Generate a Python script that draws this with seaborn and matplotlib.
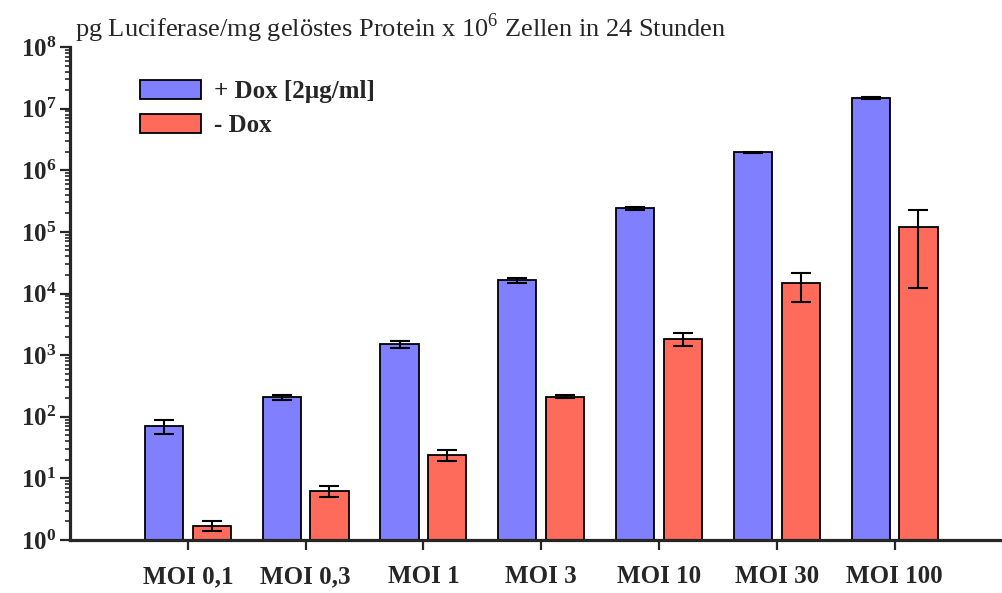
import pandas as pd
import matplotlib
matplotlib.use('Agg')
import matplotlib.pyplot as plt
import seaborn as sns
import numpy as np
from matplotlib.patches import Patch
from matplotlib.ticker import LogLocator, NullFormatter

# values (log scale)
moi = ['MOI 0,1', 'MOI 0,3', 'MOI 1', 'MOI 3', 'MOI 10', 'MOI 30', 'MOI 100']
dox_plus = [70, 210, 1520, 16500, 240000, 1.95e6, 1.5e7]
dox_plus_lo = [53, 188, 1290, 15000, 230000, 1.9e6, 1.45e7]
dox_plus_hi = [88, 228, 1720, 18000, 250000, 2.0e6, 1.55e7]
dox_minus = [1.7, 6.3, 24, 212, 1850, 14700, 122000]
dox_minus_lo = [1.4, 4.9, 19, 203, 1400, 7400, 12500]
dox_minus_hi = [2.0, 7.5, 29, 222, 2300, 21500, 230000]

labels = ['+ Dox [2µg/ml]', '- Dox']
colors = ['#8080FF', '#FF6B5B']

df = pd.DataFrame({
    'MOI': moi * 2,
    'Wert': dox_plus + dox_minus,
    'Gruppe': [labels[0]] * len(moi) + [labels[1]] * len(moi),
})

sns.set_style('ticks')
plt.rcParams['font.family'] = ['Liberation Serif', 'DejaVu Serif']
plt.rcParams['mathtext.fontset'] = 'custom'
plt.rcParams['mathtext.rm'] = 'Liberation Serif'
plt.rcParams['mathtext.bf'] = 'Liberation Serif:bold'

fig = plt.figure(figsize=(10.03, 5.93), dpi=100)
ax = fig.add_axes([0.0698, 0.0894, 0.9302, 0.8313])

sns.barplot(data=df, x='MOI', y='Wert', hue='Gruppe', hue_order=labels,
            palette=colors, width=0.81, gap=0.2, errorbar=None,
            edgecolor='black', linewidth=1.3, saturation=1, legend=False, ax=ax)

ax.set_yscale('log')
ax.set_ylim(1, 1e8)
ax.set_xlim(-1.0, 6.92)

# asymmetric error bars
for cont, vals, lo, hi in zip(ax.containers, [dox_plus, dox_minus],
                              [dox_plus_lo, dox_minus_lo], [dox_plus_hi, dox_minus_hi]):
    xs = [p.get_x() + p.get_width() / 2 for p in cont.patches]
    v = np.array(vals)
    yerr = [v - np.array(lo), np.array(hi) - v]
    ax.errorbar(xs, v, yerr=yerr, fmt='none', ecolor='black',
                elinewidth=1.5, capsize=7.5, capthick=1.5, zorder=5)

ax.set_yticks(10.0 ** np.arange(9))
ax.set_yticklabels([r'$\mathbf{10^{%d}}$' % i for i in range(9)], fontsize=18)
ax.yaxis.set_minor_locator(LogLocator(base=10, subs=np.arange(2, 10), numticks=20))
ax.yaxis.set_minor_formatter(NullFormatter())

ax.set_xticks(range(len(moi)))
ax.set_xticklabels(moi, fontsize=18, fontweight='bold')
ax.set_xlabel('')
ax.set_ylabel('')

ax.tick_params(axis='y', which='major', length=7, width=1.6, pad=3)
ax.tick_params(axis='y', which='minor', length=3.5, width=1.2)
ax.tick_params(axis='x', which='major', length=7, width=1.6, pad=11)

sns.despine(ax=ax)
ax.spines['left'].set_linewidth(2.3)
ax.spines['bottom'].set_linewidth(2.3)

handles = [Patch(facecolor=c, edgecolor='black', linewidth=1.3) for c in colors]
leg = ax.legend(handles, labels, loc='upper left', bbox_to_anchor=(140 / 1003, 1 - 80 / 593),
                bbox_transform=fig.transFigure, frameon=False, borderpad=0, borderaxespad=0,
                handlelength=2.45, handleheight=0.8, handletextpad=0.5, labelspacing=0.42,
                prop={'size': 18, 'weight': 'bold'})

fig.text(75 / 1003, 1 - 37 / 593,
         'pg Luciferase/mg gelöstes Protein x 10$^{6}$ Zellen in 24 Stunden', fontsize=19)

plt.savefig('out.png', dpi=100)
plt.close()
